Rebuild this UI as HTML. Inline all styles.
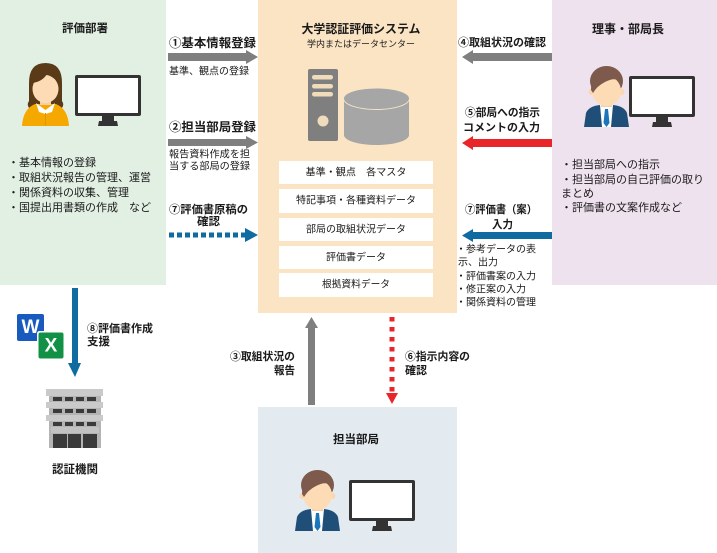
<!DOCTYPE html>
<html><head><meta charset="utf-8"><style>
html,body{margin:0;padding:0;background:#fff;}
svg{display:block;}
text{font-family:"Liberation Sans","Noto Sans CJK JP",sans-serif;fill:#1a1a1a;dominant-baseline:central;}
.b{font-weight:bold;}
</style></head><body>
<svg width="717" height="553" viewBox="0 0 717 553" xmlns="http://www.w3.org/2000/svg">
<defs>
<g id="male">
  <path d="M0,61 L2,47 Q5,40 16,39 L29,39 Q40,40 43,47 L45,61 Z" fill="#1f4e79"/>
  <polygon points="16,39 29,39 27,61 18,61" fill="#fff"/>
  <polygon points="21,43 24,43 25.5,57 22.5,61 19.5,57" fill="#1b75bb"/>
  <rect x="17" y="33" width="11" height="8" fill="#f7cfa6"/>
  <ellipse cx="22.5" cy="15" rx="16.5" ry="15" fill="#7d5a4b"/>
  <circle cx="7.5" cy="26" r="3" fill="#fbd6b0"/>
  <circle cx="37.5" cy="26" r="3" fill="#fbd6b0"/>
  <ellipse cx="22.5" cy="25" rx="14.5" ry="15" fill="#fddcb5"/>
  <path d="M7,24 Q7,6 22,6 Q38,6 38,22 L36,15 Q30,11 21,16 Q13,20 9,27 Z" fill="#7d5a4b"/>
</g>
<g id="mon">
  <rect x="0" y="0" width="66" height="41" rx="2" fill="#333"/>
  <rect x="3" y="3" width="60" height="35" fill="#fff"/>
  <rect x="27" y="41" width="12" height="6" fill="#333"/>
  <path d="M23,51 L24,46 L42,46 L43,51 Z" fill="#333"/>
</g>
</defs>

<!-- panels -->
<rect x="0" y="0" width="166" height="285" fill="#e2efe3"/>
<rect x="258" y="0" width="199" height="313" fill="#fbe4c3"/>
<rect x="552" y="0" width="165" height="285" fill="#eee2ee"/>
<rect x="258" y="407" width="199" height="146" fill="#e3ebf1"/>

<!-- left panel -->
<text x="85" y="29" class="b" font-size="11.5" text-anchor="middle" textLength="46" lengthAdjust="spacingAndGlyphs">評価部署</text>
<!-- female -->
<g transform="translate(21,63)">
  <path d="M8,20 Q8,0 24.5,0 Q41,0 41,20 L41,38 Q44,42 40,46 L9,46 Q5,42 8,38 Z" fill="#5b3a17"/>
  <path d="M1,63 Q2,46 14,41 L35,41 Q47,46 48,63 Z" fill="#f5a800"/>
  <polygon points="15,40 24.5,47 34,40 31,49 24.5,51 18,49" fill="#fff"/>
  <line x1="24.5" y1="50" x2="24.5" y2="63" stroke="#e39500" stroke-width="1"/>
  <rect x="19" y="34" width="11" height="8" fill="#f7cfa6"/>
  <ellipse cx="24.5" cy="26" rx="13" ry="14" fill="#fddcb5"/>
  <path d="M10,26 Q9,8 24.5,7 Q40,8 39,26 L37,18 Q31,14 26,11 Q22,18 12,20 Z" fill="#5b3a17"/>
</g>
<use href="#mon" x="75" y="75"/>
<g font-size="11">
<text x="8" y="163">・基本情報の登録</text>
<text x="8" y="178">・取組状況報告の管理、運営</text>
<text x="8" y="193">・関係資料の収集、管理</text>
<text x="8" y="208">・国提出用書類の作成　など</text>
</g>

<!-- left arrows -->
<text x="169" y="43" class="b" font-size="12" textLength="87" lengthAdjust="spacingAndGlyphs">①基本情報登録</text>
<polygon points="168,53 246,53 246,50 258,57 246,64 246,61 168,61" fill="#7f7f7f"/>
<text x="169" y="72" font-size="10" textLength="80" lengthAdjust="spacingAndGlyphs">基準、観点の登録</text>
<text x="169" y="127" class="b" font-size="12" textLength="87" lengthAdjust="spacingAndGlyphs">②担当部局登録</text>
<polygon points="168,139 246,139 246,136 258,142.5 246,149 246,146 168,146" fill="#7f7f7f"/>
<text x="169" y="155" font-size="10" textLength="81" lengthAdjust="spacingAndGlyphs">報告資料作成を担</text>
<text x="169" y="167" font-size="10" textLength="81" lengthAdjust="spacingAndGlyphs">当する部局の登録</text>
<text x="169" y="210" class="b" font-size="11" textLength="79" lengthAdjust="spacingAndGlyphs">⑦評価書原稿の</text>
<text x="197" y="222" class="b" font-size="11" textLength="23" lengthAdjust="spacingAndGlyphs">確認</text>
<line x1="169" y1="235" x2="245" y2="235" stroke="#0f6ba0" stroke-width="5" stroke-dasharray="5 3"/>
<polygon points="245,228 258,235 245,242" fill="#0f6ba0"/>

<!-- center panel -->
<text x="361" y="29" class="b" font-size="12" text-anchor="middle" textLength="119" lengthAdjust="spacingAndGlyphs">大学認証評価システム</text>
<text x="361" y="44" font-size="9" text-anchor="middle" textLength="108" lengthAdjust="spacingAndGlyphs">学内またはデータセンター</text>
<rect x="308" y="69" width="30" height="72" rx="2" fill="#7f7f7f"/>
<rect x="312" y="75" width="21" height="4.5" rx="2.2" fill="#efdcbb"/>
<rect x="312" y="84" width="21" height="4.5" rx="2.2" fill="#efdcbb"/>
<rect x="312" y="92" width="21" height="4.5" rx="2.2" fill="#efdcbb"/>
<circle cx="323" cy="121" r="5.5" fill="#efdcbb"/>
<path d="M344,99 L344,135 A32.5,10 0 0 0 409,135 L409,99 Z" fill="#a6a6a6"/>
<ellipse cx="376.5" cy="99" rx="32.5" ry="10.5" fill="#a6a6a6" stroke="#f3e2c6" stroke-width="1"/>
<ellipse cx="376.5" cy="98.5" rx="32.5" ry="10" fill="#a6a6a6"/>
<g fill="#fff">
<rect x="279" y="161" width="154" height="23"/>
<rect x="279" y="189" width="154" height="24"/>
<rect x="279" y="218" width="154" height="23"/>
<rect x="279" y="246" width="154" height="23"/>
<rect x="279" y="273" width="154" height="24"/>
</g>
<g font-size="10" text-anchor="middle">
<text x="356" y="173" textLength="101" lengthAdjust="spacingAndGlyphs">基準・観点　各マスタ</text>
<text x="356" y="201" textLength="120" lengthAdjust="spacingAndGlyphs">特記事項・各種資料データ</text>
<text x="356" y="230" textLength="100" lengthAdjust="spacingAndGlyphs">部局の取組状況データ</text>
<text x="356" y="258" textLength="60" lengthAdjust="spacingAndGlyphs">評価書データ</text>
<text x="356" y="285" textLength="68" lengthAdjust="spacingAndGlyphs">根拠資料データ</text>
</g>

<!-- right panel -->
<text x="628" y="29" class="b" font-size="12" text-anchor="middle" textLength="72" lengthAdjust="spacingAndGlyphs">理事・部局長</text>
<use href="#male" x="584" y="66"/>
<use href="#mon" x="629" y="76"/>
<g font-size="11">
<text x="561" y="165">・担当部局への指示</text>
<text x="561" y="180">・担当部局の自己評価の取り</text>
<text x="561" y="194">まとめ</text>
<text x="561" y="208">・評価書の文案作成など</text>
</g>

<!-- right arrows -->
<text x="458" y="43" class="b" font-size="11" textLength="88" lengthAdjust="spacingAndGlyphs">④取組状況の確認</text>
<polygon points="552,53 473,53 473,50 462,57 473,64 473,61 552,61" fill="#7f7f7f"/>
<text x="465" y="113" class="b" font-size="11" textLength="75" lengthAdjust="spacingAndGlyphs">⑤部局への指示</text>
<text x="463" y="128" class="b" font-size="11" textLength="77" lengthAdjust="spacingAndGlyphs">コメントの入力</text>
<polygon points="552,139 473,139 473,136 462,143 473,150 473,147 552,147" fill="#e8262a"/>
<text x="465" y="210" class="b" font-size="11" textLength="72" lengthAdjust="spacingAndGlyphs">⑦評価書（案）</text>
<text x="492" y="225" class="b" font-size="11" textLength="21" lengthAdjust="spacingAndGlyphs">入力</text>
<polygon points="552,232 473,232 473,229 462,235.5 473,242 473,239 552,239" fill="#0f6ba0"/>
<g font-size="10">
<text x="456" y="250">・参考データの表</text>
<text x="458" y="263">示、出力</text>
<text x="456" y="277">・評価書案の入力</text>
<text x="456" y="290">・修正案の入力</text>
<text x="456" y="303">・関係資料の管理</text>
</g>

<!-- bottom left -->
<polygon points="72,288 78,288 78,363 81,363 75,377 68,363 72,363" fill="#0f6ba0"/>
<rect x="17" y="314" width="27" height="27" rx="2" fill="#185abd"/>
<text x="30.5" y="327.5" class="b" font-size="19" text-anchor="middle" style="fill:#fff">W</text>
<rect x="37" y="331" width="28" height="29" rx="2.5" fill="#fff"/>
<rect x="38.5" y="332.5" width="25" height="26" rx="2" fill="#109146"/>
<text x="51" y="346" class="b" font-size="19" text-anchor="middle" style="fill:#fff">X</text>
<text x="87" y="329" class="b" font-size="11" textLength="66" lengthAdjust="spacingAndGlyphs">⑧評価書作成</text>
<text x="87" y="342" class="b" font-size="11" textLength="23" lengthAdjust="spacingAndGlyphs">支援</text>
<!-- building -->
<rect x="49" y="389" width="52" height="59" fill="#b4b4b4"/>
<rect x="46" y="389" width="57" height="7" fill="#cacaca"/>
<rect x="46" y="402" width="57" height="6" fill="#cacaca"/>
<rect x="46" y="415" width="57" height="6" fill="#cacaca"/>
<rect x="51" y="427" width="48" height="6" fill="#c2c2c2"/>
<g fill="#3a3a3a">
<rect x="53" y="397" width="9" height="4"/><rect x="65" y="397" width="8" height="4"/><rect x="76" y="397" width="8" height="4"/><rect x="87" y="397" width="9" height="4"/>
<rect x="53" y="409" width="9" height="4"/><rect x="65" y="409" width="8" height="4"/><rect x="76" y="409" width="8" height="4"/><rect x="87" y="409" width="9" height="4"/>
<rect x="53" y="422" width="9" height="4"/><rect x="65" y="422" width="8" height="4"/><rect x="76" y="422" width="8" height="4"/><rect x="87" y="422" width="9" height="4"/>
<rect x="53" y="434" width="14" height="14"/><rect x="68" y="434" width="13" height="14"/><rect x="83" y="434" width="14" height="14"/>
</g>
<text x="75" y="470" class="b" font-size="11.5" text-anchor="middle" textLength="46" lengthAdjust="spacingAndGlyphs">認証機関</text>

<!-- bottom center arrows -->
<polygon points="308,405 308,328 305,328 311.5,317 318,328 315,328 315,405" fill="#7f7f7f"/>
<text x="295" y="357" class="b" font-size="11" text-anchor="end" textLength="65" lengthAdjust="spacingAndGlyphs">③取組状況の</text>
<text x="295" y="371" class="b" font-size="11" text-anchor="end" textLength="21" lengthAdjust="spacingAndGlyphs">報告</text>
<line x1="392" y1="317" x2="392" y2="392" stroke="#e8262a" stroke-width="5" stroke-dasharray="4.5 5.5"/>
<polygon points="386,393 398,393 392,404" fill="#e8262a"/>
<text x="405" y="357" class="b" font-size="11" textLength="65" lengthAdjust="spacingAndGlyphs">⑥指示内容の</text>
<text x="405" y="371" class="b" font-size="11" textLength="22" lengthAdjust="spacingAndGlyphs">確認</text>

<!-- bottom panel -->
<text x="356" y="440" class="b" font-size="11.5" text-anchor="middle" textLength="46" lengthAdjust="spacingAndGlyphs">担当部局</text>
<use href="#male" x="295" y="470"/>
<use href="#mon" x="349" y="480"/>
</svg>
</body></html>
